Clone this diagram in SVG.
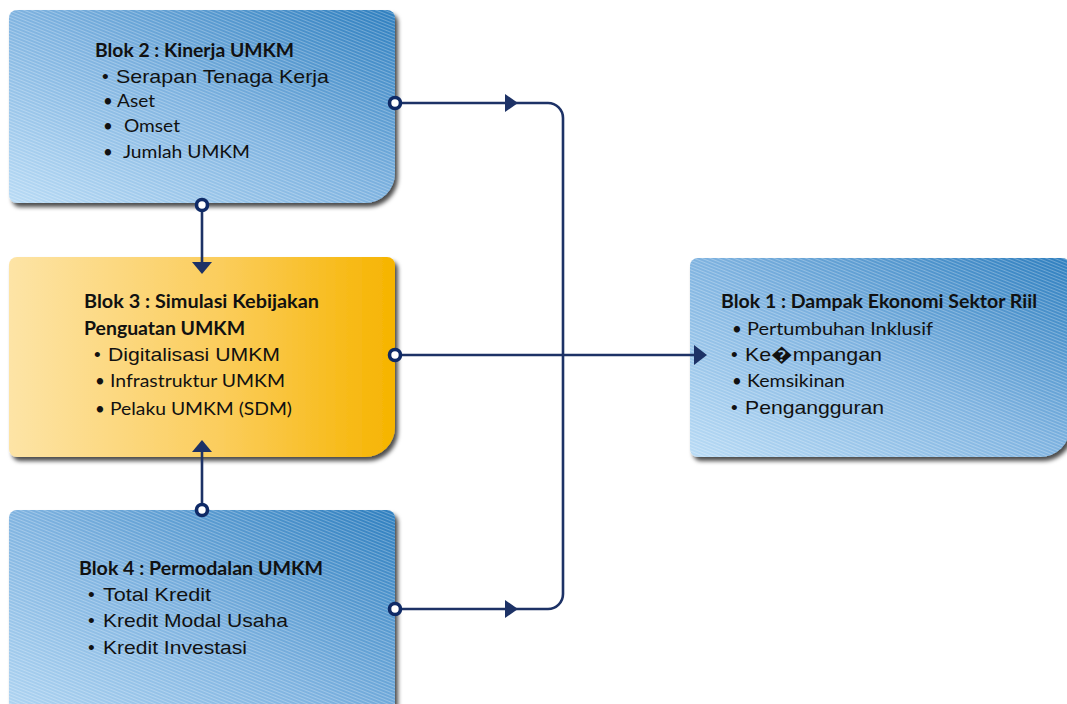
<svg xmlns="http://www.w3.org/2000/svg" width="1067" height="704" viewBox="0 0 1067 704">
<defs>
<style>
.t{font-family:Lato,"Open Sans",sans-serif;font-weight:bold;font-size:18px;fill:#111}
.c{font-family:Lato,"Open Sans",sans-serif;font-size:17px;fill:#111}
.a{font-family:"Liberation Sans",Arial,sans-serif;font-size:19px;fill:#111}
.ln{fill:none;stroke:#1d3266;stroke-width:2.6}
.dot{fill:#fff;stroke:#0f2a66;stroke-width:3.6}
.ah{fill:#1d3266}
</style>
<linearGradient id="gb" x1="0" y1="1" x2="1" y2="0">
<stop offset="0" stop-color="#b9dbf5"/>
<stop offset="0.5" stop-color="#7fb3e0"/>
<stop offset="1" stop-color="#2f7fbf"/>
</linearGradient>
<linearGradient id="gy" x1="0" y1="0" x2="1" y2="0">
<stop offset="0" stop-color="#fde4a6"/>
<stop offset="0.55" stop-color="#fbcd5c"/>
<stop offset="1" stop-color="#f6b400"/>
</linearGradient>
<pattern id="hatch" width="6" height="3" patternUnits="userSpaceOnUse" patternTransform="rotate(22)">
<rect width="6" height="1" fill="#ffffff" opacity="0.28"/>
</pattern>
<filter id="sh" x="-5%" y="-5%" width="115%" height="120%">
<feDropShadow dx="3" dy="4" stdDeviation="2.2" flood-color="#000" flood-opacity="0.7"/>
</filter>
</defs>

<g id="blok2">
<path d="M17 10 H387 A8 8 0 0 1 395 18 V173 A30 30 0 0 1 365 203 H17 A8 8 0 0 1 9 195 V18 A8 8 0 0 1 17 10 Z" fill="url(#gb)" filter="url(#sh)"/>
<path d="M17 10 H387 A8 8 0 0 1 395 18 V173 A30 30 0 0 1 365 203 H17 A8 8 0 0 1 9 195 V18 A8 8 0 0 1 17 10 Z" fill="url(#hatch)"/>
<text class="t" x="95" y="57" textLength="199" lengthAdjust="spacingAndGlyphs">Blok 2 : Kinerja UMKM</text>
<text class="a" x="102" y="83">•</text><text class="a" x="116" y="83" textLength="213" lengthAdjust="spacingAndGlyphs">Serapan Tenaga Kerja</text>
<text class="c" x="103" y="107">•</text><text class="c" x="117" y="107" textLength="38" lengthAdjust="spacingAndGlyphs">Aset</text>
<text class="c" x="103" y="132">•</text><text class="c" x="124" y="132" textLength="56" lengthAdjust="spacingAndGlyphs">Omset</text>
<text class="c" x="103" y="158">•</text><text class="c" x="123" y="158" textLength="127" lengthAdjust="spacingAndGlyphs">Jumlah UMKM</text>
</g>

<g id="blok3">
<path d="M17 257 H387 A8 8 0 0 1 395 265 V427 A30 30 0 0 1 365 457 H17 A8 8 0 0 1 9 449 V265 A8 8 0 0 1 17 257 Z" fill="url(#gy)" filter="url(#sh)"/>
<text class="t" x="84" y="308" textLength="235" lengthAdjust="spacingAndGlyphs">Blok 3 : Simulasi Kebijakan</text>
<text class="t" x="84" y="335" textLength="161" lengthAdjust="spacingAndGlyphs">Penguatan UMKM</text>
<text class="a" x="94" y="361">•</text><text class="a" x="108" y="361" textLength="172" lengthAdjust="spacingAndGlyphs">Digitalisasi UMKM</text>
<text class="c" x="95" y="387">•</text><text class="c" x="110" y="387" textLength="175" lengthAdjust="spacingAndGlyphs">Infrastruktur UMKM</text>
<text class="c" x="95" y="415">•</text><text class="c" x="110" y="415" textLength="182" lengthAdjust="spacingAndGlyphs">Pelaku UMKM (SDM)</text>
</g>

<g id="blok4">
<path d="M17 510 H387 A8 8 0 0 1 395 518 V720 A30 30 0 0 1 365 750 H17 A8 8 0 0 1 9 742 V518 A8 8 0 0 1 17 510 Z" fill="url(#gb)" filter="url(#sh)"/>
<path d="M17 510 H387 A8 8 0 0 1 395 518 V720 A30 30 0 0 1 365 750 H17 A8 8 0 0 1 9 742 V518 A8 8 0 0 1 17 510 Z" fill="url(#hatch)"/>
<text class="t" x="79" y="575" textLength="244" lengthAdjust="spacingAndGlyphs">Blok 4 : Permodalan UMKM</text>
<text class="a" x="88" y="601">•</text><text class="a" x="103" y="601" textLength="108" lengthAdjust="spacingAndGlyphs">Total Kredit</text>
<text class="a" x="88" y="627">•</text><text class="a" x="103" y="627" textLength="185" lengthAdjust="spacingAndGlyphs">Kredit Modal Usaha</text>
<text class="a" x="88" y="654">•</text><text class="a" x="103" y="654" textLength="144" lengthAdjust="spacingAndGlyphs">Kredit Investasi</text>
</g>

<g id="blok1">
<path d="M698 258 H1062 A8 8 0 0 1 1070 266 V427 A30 30 0 0 1 1040 457 H698 A8 8 0 0 1 690 449 V266 A8 8 0 0 1 698 258 Z" fill="url(#gb)" filter="url(#sh)"/>
<path d="M698 258 H1062 A8 8 0 0 1 1070 266 V427 A30 30 0 0 1 1040 457 H698 A8 8 0 0 1 690 449 V266 A8 8 0 0 1 698 258 Z" fill="url(#hatch)"/>
<text class="t" x="721" y="308" textLength="316" lengthAdjust="spacingAndGlyphs">Blok 1 : Dampak Ekonomi Sektor Riil</text>
<text class="c" x="732" y="335">•</text><text class="c" x="747" y="335" textLength="186" lengthAdjust="spacingAndGlyphs">Pertumbuhan Inklusif</text>
<text class="a" x="731" y="361">•</text><text class="a" x="745" y="361" textLength="137" lengthAdjust="spacingAndGlyphs">Ke�mpangan</text>
<text class="c" x="732" y="387">•</text><text class="c" x="747" y="387" textLength="98" lengthAdjust="spacingAndGlyphs">Kemsikinan</text>
<text class="a" x="731" y="414">•</text><text class="a" x="745" y="414" textLength="139" lengthAdjust="spacingAndGlyphs">Pengangguran</text>
</g>

<g id="connectors">
<path class="ln" d="M395 103 H548 A15 15 0 0 1 563 118 V594 A15 15 0 0 1 548 609 H395"/>
<path class="ln" d="M395 355 H697"/>
<path class="ln" d="M202 205 V264"/>
<path class="ln" d="M202 510 V450"/>
<polygon class="ah" points="505,94 518,103 505,112"/>
<polygon class="ah" points="505,600 518,609 505,618"/>
<polygon class="ah" points="694,345 707,355 694,365"/>
<polygon class="ah" points="192,262 212,262 202,274"/>
<polygon class="ah" points="192,452 212,452 202,440"/>
<circle class="dot" cx="395" cy="103" r="5.5"/>
<circle class="dot" cx="395" cy="609" r="5.5"/>
<circle class="dot" cx="395" cy="355" r="5.5"/>
<circle class="dot" cx="202" cy="205" r="5.5"/>
<circle class="dot" cx="202" cy="510" r="5.5"/>
</g>
</svg>
